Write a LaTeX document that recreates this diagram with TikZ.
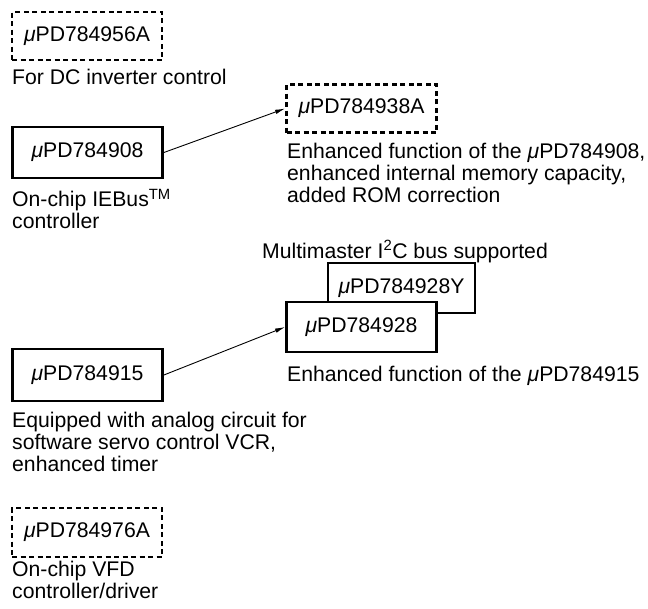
\documentclass[tikz,border=0pt]{standalone}
\usepackage{fontspec}
\setmainfont{Liberation Sans}
\usetikzlibrary{arrows.meta}

\newcommand{\upd}{\textit{μ}PD}

\begin{document}
\begin{tikzpicture}[
        x=1pt, y=-1pt,
        every node/.style={font=\fontsize{21.2pt}{21.8pt}\selectfont},
        chip/.style={draw, line width=2.8pt, minimum width=150pt, minimum height=51pt, inner sep=0pt, fill=white},
        chip planned/.style={chip, dash pattern=on 5pt off 3.5pt, minimum height=48pt},
        note/.style={anchor=north west, align=left, inner sep=0pt},
        link/.style={-{Latex[length=10pt,width=4.5pt]}, line width=0.9pt}
      ]

      \useasboundingbox (0,0) rectangle (648,608);

      \node[chip planned] (b956) at (87,36) {\upd784956A};
      \node[note] (t956) at (12,69) {For DC inverter control};

      \node[chip] (b908) at (87.5,152.5) {\upd784908};
      \node[note] (t908) at (12,189) {On-chip IEBus\textsuperscript{TM}\\controller};

      \node[chip planned] (b938) at (361.5,108.5) {\upd784938A};
      \node[note] (t938) at (287,143) {Enhanced function of the \upd784908,\\enhanced internal memory capacity,\\added ROM correction};

      \node[note] (tmulti) at (262,240) {Multimaster I\textsuperscript{2}C bus supported};
      \node[chip, minimum width=147pt, minimum height=50pt] (b928y) at (401.5,288) {\upd784928Y};
      \node[chip, minimum height=50pt] (b928) at (361.5,327) {\upd784928};
      \node[note] (t928) at (287,366) {Enhanced function of the \upd784915};

      \node[chip, minimum height=52pt] (b915) at (87.5,375) {\upd784915};
      \node[note] (t915) at (12,412) {Equipped with analog circuit for\\software servo control VCR,\\enhanced timer};

      \node[chip planned, minimum height=49pt] (b976) at (87,532.5) {\upd784976A};
      \node[note] (t976) at (12,561) {On-chip VFD\\controller/driver};

      \draw[link] (b908.east) -- (b938.west);
      \draw[link] (b915.east) -- (b928.west);

    \end{tikzpicture}
\end{document}
